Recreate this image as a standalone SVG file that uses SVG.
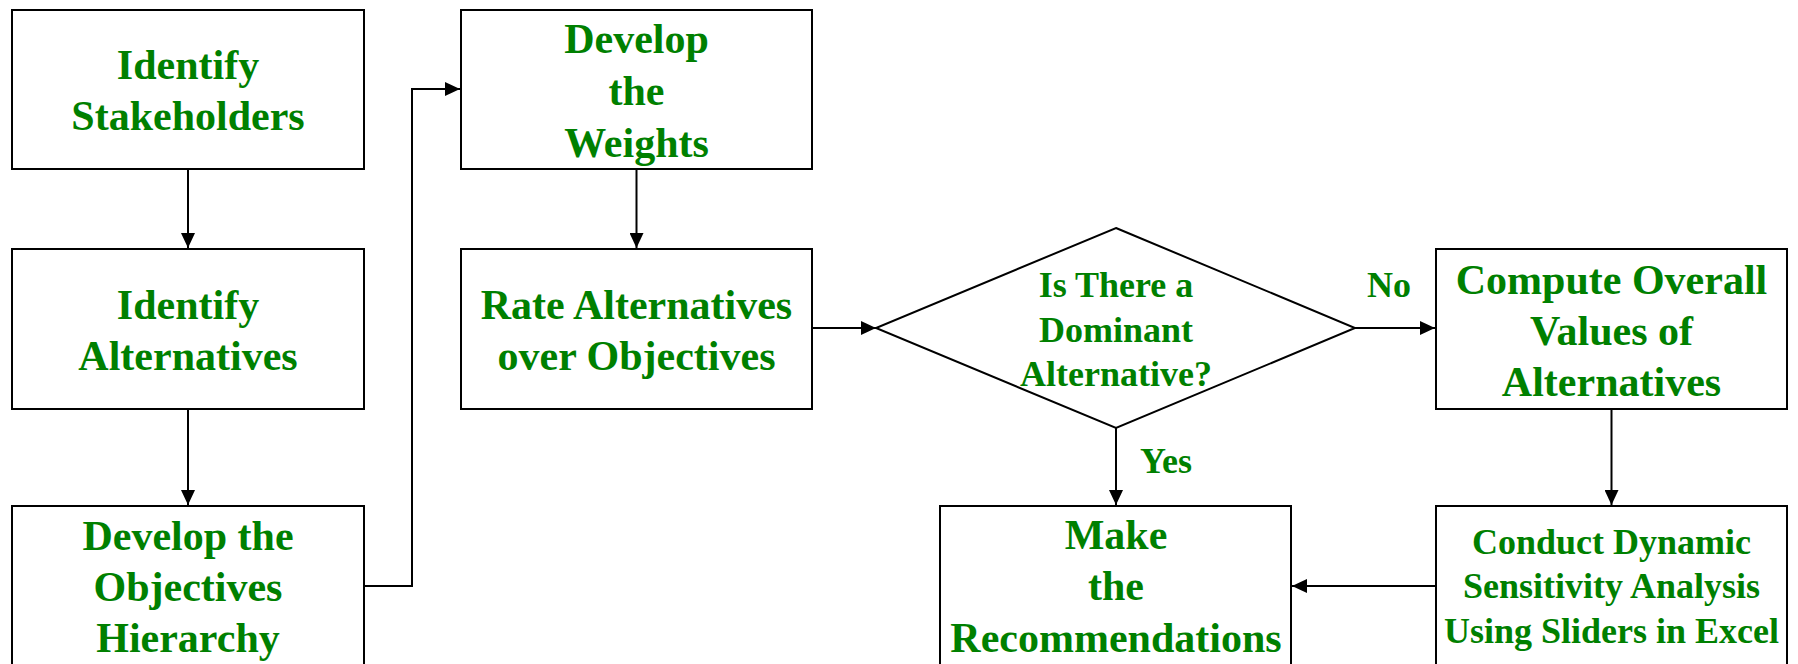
<svg xmlns="http://www.w3.org/2000/svg" width="1798" height="664" viewBox="0 0 1798 664">
<style>
.box{fill:#fff;stroke:#000;stroke-width:2}
.t{font-family:"Liberation Serif","Times New Roman",serif;font-weight:bold;fill:#008000;text-anchor:middle}
.big{font-size:42px}
.mid{font-size:36px}
.c{fill:none;stroke:#000;stroke-width:2}
</style>
<defs>
<marker id="ah" markerUnits="userSpaceOnUse" markerWidth="16" markerHeight="14" refX="15" refY="7" orient="auto">
<path d="M0,0 L15,7 L0,14 z" fill="#000"/>
</marker>
</defs>
<rect width="1798" height="664" fill="#fff"/>
<g id="connectors">
<path class="c" d="M188,169 V248" marker-end="url(#ah)"/>
<path class="c" d="M188,409 V505" marker-end="url(#ah)"/>
<path class="c" d="M364,586 H412 V89 H460" marker-end="url(#ah)"/>
<path class="c" d="M636.5,169 V248" marker-end="url(#ah)"/>
<path class="c" d="M812,328 H876" marker-end="url(#ah)"/>
<path class="c" d="M1355,328 H1435" marker-end="url(#ah)"/>
<path class="c" d="M1116,428 V505" marker-end="url(#ah)"/>
<path class="c" d="M1611.5,409 V505" marker-end="url(#ah)"/>
<path class="c" d="M1436,586 H1292" marker-end="url(#ah)"/>
</g>
<g id="identify-stakeholders">
<rect class="box" x="12" y="10" width="352" height="159"/>
<text class="t big" x="188" y="79">Identify</text>
<text class="t big" x="188" y="130">Stakeholders</text>
</g>
<g id="identify-alternatives">
<rect class="box" x="12" y="249" width="352" height="160"/>
<text class="t big" x="188" y="319">Identify</text>
<text class="t big" x="188" y="370">Alternatives</text>
</g>
<g id="develop-objectives">
<rect class="box" x="12" y="506" width="352" height="180"/>
<text class="t big" x="188" y="550">Develop the</text>
<text class="t big" x="188" y="601">Objectives</text>
<text class="t big" x="188" y="652">Hierarchy</text>
</g>
<g id="develop-weights">
<rect class="box" x="461" y="10" width="351" height="159"/>
<text class="t big" x="636.5" y="53">Develop</text>
<text class="t big" x="636.5" y="105">the</text>
<text class="t big" x="636.5" y="157">Weights</text>
</g>
<g id="rate-alternatives">
<rect class="box" x="461" y="249" width="351" height="160"/>
<text class="t big" x="636.5" y="319">Rate Alternatives</text>
<text class="t big" x="636.5" y="370">over Objectives</text>
</g>
<g id="dominant-decision">
<polygon class="box" points="1116,228 1355,328 1116,428 876,328"/>
<text class="t mid" x="1116" y="297">Is There a</text>
<text class="t mid" x="1116" y="342">Dominant</text>
<text class="t mid" x="1116" y="386">Alternative?</text>
</g>
<g id="compute-overall">
<rect class="box" x="1436" y="249" width="351" height="160"/>
<text class="t big" x="1611.5" y="294">Compute Overall</text>
<text class="t big" x="1611.5" y="345">Values of</text>
<text class="t big" x="1611.5" y="396">Alternatives</text>
</g>
<g id="make-recommendations">
<rect class="box" x="940" y="506" width="351" height="180"/>
<text class="t big" x="1116" y="549">Make</text>
<text class="t big" x="1116" y="600">the</text>
<text class="t big" x="1116" y="652">Recommendations</text>
</g>
<g id="sensitivity-analysis">
<rect class="box" x="1436" y="506" width="351" height="180"/>
<text class="t mid" x="1611.5" y="554">Conduct Dynamic</text>
<text class="t mid" x="1611.5" y="598">Sensitivity Analysis</text>
<text class="t mid" x="1611.5" y="643">Using Sliders in Excel</text>
</g>
<g id="labels">
<text class="t mid" x="1389" y="297">No</text>
<text class="t mid" x="1166" y="473">Yes</text>
</g>
</svg>
